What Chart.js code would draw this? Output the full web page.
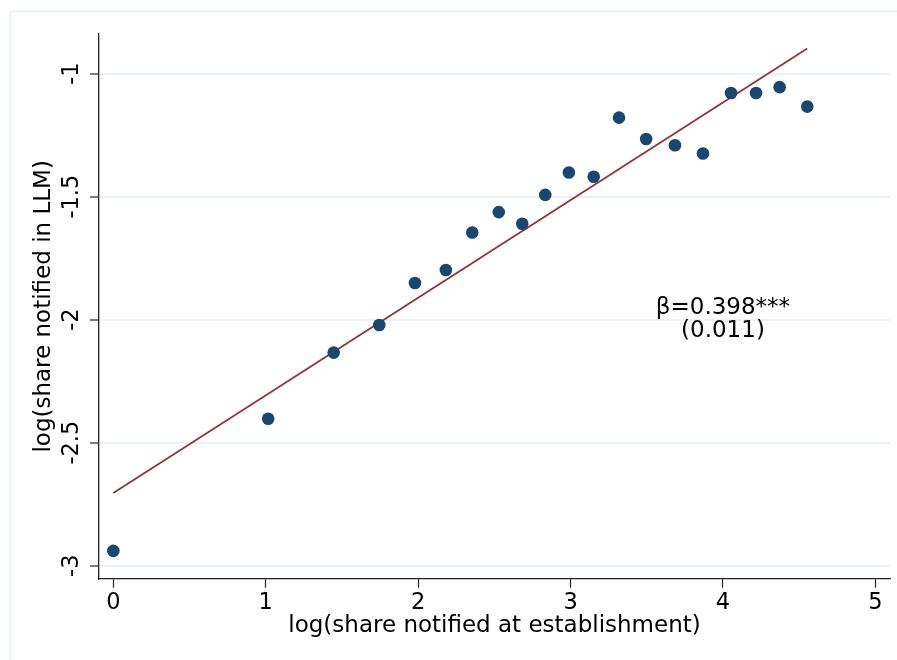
<!DOCTYPE html>
<html>
<head>
<meta charset="utf-8">
<script src="https://cdn.jsdelivr.net/npm/chart.js@4.4.1/dist/chart.umd.min.js"></script>
<style>
  html, body { margin: 0; padding: 0; background: #ffffff; }
  #wrap { width: 897px; height: 660px; position: relative; }
</style>
</head>
<body>
<div id="wrap"><canvas id="c"></canvas></div>
<script>
// ---- data ----
const binX = [0.000, 1.016, 1.446, 1.745, 1.979, 2.182, 2.355, 2.529, 2.683, 2.834, 2.989, 3.152, 3.318, 3.496, 3.685, 3.869, 4.053, 4.217, 4.372, 4.553];
const binY = [-2.940, -2.403, -2.134, -2.022, -1.851, -1.798, -1.646, -1.563, -1.610, -1.493, -1.402, -1.419, -1.179, -1.266, -1.291, -1.325, -1.079, -1.079, -1.055, -1.134];
const fitX = [0.000, 4.553];
const fitY = [-2.705, -0.898];
const xTicks = [0, 1, 2, 3, 4, 5];
const yTicks = [-3, -2.5, -2, -1.5, -1];
const xTitle = 'log(share notified at establishment)';
const yTitle = 'log(share notified in LLM)';
const noteLines = ['\u03B2=0.398***', '(0.011)'];
const noteAt = [4.0, -2.0];

const FONT = 'DejaVu Sans';
const GRID = '#e9f1f3';
const AXIS = '#222222';

const framePlugin = {
  id: 'frame',
  beforeDraw(chart) {
    const ctx = chart.ctx;
    ctx.save();
    ctx.fillStyle = '#ffffff';
    ctx.fillRect(0, 0, chart.width, chart.height);
    ctx.strokeStyle = '#e6eff1';
    ctx.lineWidth = 1.5;
    ctx.beginPath();
    ctx.moveTo(10.5, chart.height);
    ctx.lineTo(10.5, 11.5);
    ctx.lineTo(chart.width, 11.5);
    ctx.stroke();
    ctx.restore();
  }
};

const notePlugin = {
  id: 'note',
  afterDatasetsDraw(chart) {
    const ctx = chart.ctx;
    const xs = chart.scales.x, ys = chart.scales.y;
    const cx = xs.getPixelForValue(noteAt[0]);
    const cy = ys.getPixelForValue(noteAt[1]);
    ctx.save();
    ctx.fillStyle = '#000000';
    ctx.font = '23px "' + FONT + '"';
    ctx.textAlign = 'center';
    ctx.textBaseline = 'middle';
    const lh = 23;
    const n = noteLines.length;
    noteLines.forEach((t, i) => {
      ctx.fillText(t, cx, cy + (i - (n - 1) / 2) * lh);
    });
    ctx.restore();
  }
};

new Chart(document.getElementById('c'), {
  type: 'scatter',
  data: {
    datasets: [
      {
        type: 'line',
        label: 'fit',
        data: fitX.map((x, i) => ({ x: x, y: fitY[i] })),
        borderColor: '#90353b',
        borderWidth: 1.8,
        pointRadius: 0,
        fill: false,
        order: 2
      },
      {
        type: 'scatter',
        label: 'bins',
        data: binX.map((x, i) => ({ x: x, y: binY[i] })),
        backgroundColor: '#1a476f',
        borderWidth: 0,
        pointRadius: 6.3,
        order: 1
      }
    ]
  },
  options: {
    responsive: true,
    maintainAspectRatio: false,
    animation: false,
    devicePixelRatio: 1,
    layout: { padding: { left: 10, right: 7, top: 34, bottom: 0 } },
    plugins: {
      legend: { display: false },
      tooltip: { enabled: false }
    },
    scales: {
      x: {
        type: 'linear',
        min: -0.094,
        max: 5.096,
        afterBuildTicks: (s) => { s.ticks = xTicks.map(v => ({ value: v })); },
        afterFit: (s) => { s.height = 81.3; },
        ticks: {
          color: '#000000',
          font: { family: FONT, size: 22.5 },
          padding: 2,
          maxRotation: 0,
          callback: (v) => String(v)
        },
        grid: {
          drawOnChartArea: false,
          drawTicks: true,
          tickLength: 9,
          tickColor: AXIS,
          tickWidth: 1.2
        },
        border: { display: true, color: AXIS, width: 1.3 },
        title: {
          display: true,
          text: xTitle,
          color: '#000000',
          font: { family: FONT, size: 23 },
          padding: { top: 0, bottom: 20 }
        }
      },
      y: {
        type: 'linear',
        min: -3.053,
        max: -0.839,
        afterBuildTicks: (s) => { s.ticks = yTicks.map(v => ({ value: v })); },
        afterFit: (s) => { s.width = 89; },
        ticks: {
          color: '#000000',
          font: { family: FONT, size: 22.5 },
          padding: -4,
          minRotation: 90,
          maxRotation: 90,
          crossAlign: 'center',
          callback: (v) => String(v)
        },
        grid: {
          color: GRID,
          lineWidth: 2,
          drawTicks: true,
          tickLength: 9,
          tickColor: AXIS,
          tickWidth: 1.2
        },
        border: { display: true, color: AXIS, width: 1.3 },
        title: {
          display: true,
          text: yTitle,
          color: '#000000',
          font: { family: FONT, size: 23 },
          padding: { top: 20, bottom: 0 }
        }
      }
    }
  },
  plugins: [framePlugin, notePlugin]
});
</script>
</body>
</html>
